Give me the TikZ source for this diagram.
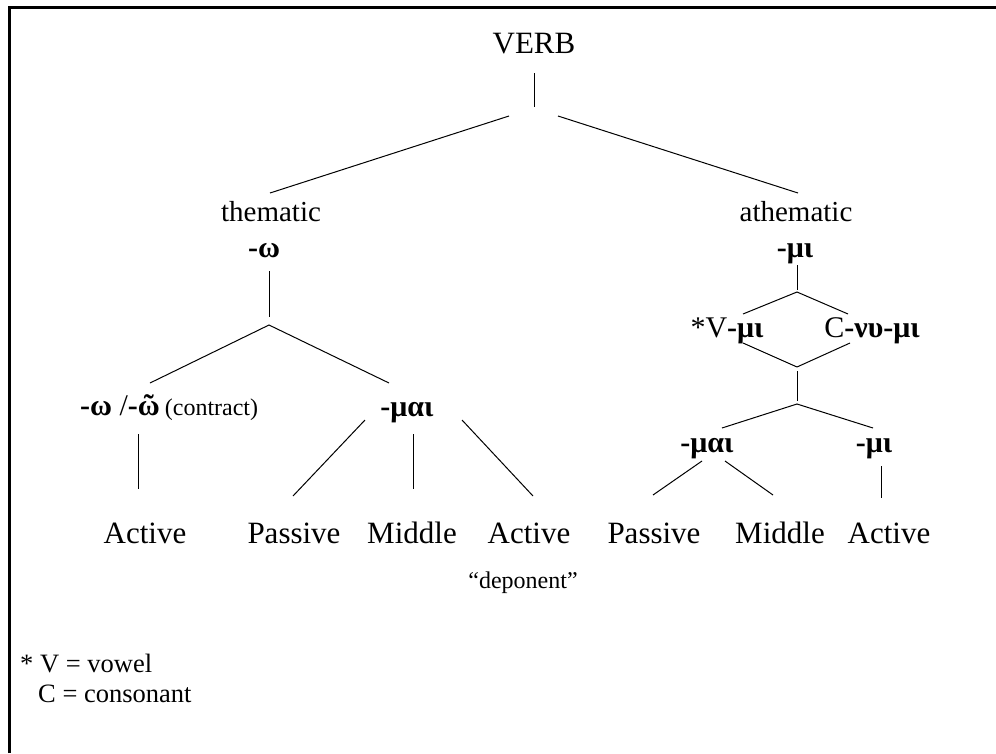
\documentclass[tikz,border=0pt]{standalone}
\usepackage{fontspec}
\setmainfont{Liberation Serif}
\begin{document}
\begin{tikzpicture}[x=1pt,y=-1pt,
  lbl/.style={inner sep=0pt,anchor=base,font=\fontsize{31}{37}\selectfont},
  cat/.style={inner sep=0pt,anchor=base,font=\fontsize{29}{35}\selectfont},
  grk/.style={inner sep=0pt,anchor=base,font=\fontsize{30}{36}\selectfont\bfseries},
  note/.style={inner sep=0pt,anchor=base west,font=\fontsize{26.5}{32}\selectfont},
  small/.style={inner sep=0pt,anchor=base,font=\fontsize{24}{29}\selectfont},
  conn/.style={line width=1pt},
  frame/.style={line width=3pt}]
\useasboundingbox (0,0) rectangle (996,753);
% frame (top and left edges visible)
\coordinate (fa) at (9.5,753);
\coordinate (fb) at (9.5,7.5);
\coordinate (fc) at (996,7.5);
\draw[frame] (fa) -- (fb) -- (fc);

% nodes
\node[lbl] (verb) at (534,53) {VERB};
\node[cat] (them) at (271,221) {thematic};
\node[grk] (omega) at (264,257) {-ω};
\node[cat] (athem) at (796,221) {athematic};
\node[grk] (mi) at (795,257) {-μι};
\node[inner sep=0pt,anchor=base west] (contr) at (80,415)
  {\fontsize{30}{36}\selectfont\textbf{-ω} /\textbf{-ῶ}\,{\fontsize{24}{29}\selectfont(contract)}};
\node[grk] (mai1) at (407,416) {-μαι};
\node[lbl] (act1) at (145,543) {Active};
\node[lbl] (pas1) at (294,543) {Passive};
\node[lbl] (mid1) at (412,543) {Middle};
\node[lbl] (act2) at (529,543) {Active};
\node[small] (dep) at (523,588) {“deponent”};
\node[inner sep=0pt,anchor=base,font=\fontsize{30}{36}\selectfont] (vmi) at (727,337) {*V\textbf{-μι}};
\node[inner sep=0pt,anchor=base,font=\fontsize{30}{36}\selectfont] (cnumi) at (872,337) {C\textbf{-νυ-μι}};
\node[grk] (mai2) at (707,452) {-μαι};
\node[grk] (mi2) at (874,452) {-μι};
\node[lbl] (pas2) at (654,543) {Passive};
\node[lbl] (mid2) at (780,543) {Middle};
\node[lbl] (act3) at (889,543) {Active};
\node[note] (leg1) at (20,672) {* V = vowel};
\node[note] (leg2) at (38,702) {C = consonant};

% connector end points
\coordinate (v1) at (534,73);
\coordinate (v2) at (534,107);
\coordinate (vl) at (509,116);
\coordinate (vr) at (558,116);
\coordinate (tl) at (270,193);
\coordinate (ar) at (798,193);
\coordinate (o1) at (269,271);
\coordinate (o2) at (269,317);
\coordinate (oj) at (269,325);
\coordinate (ol) at (150,383);
\coordinate (or) at (389,383);
\coordinate (c1) at (138,434);
\coordinate (c2) at (138,489);
\coordinate (m1a) at (365,420);
\coordinate (m1b) at (293,496);
\coordinate (m1c) at (413,434);
\coordinate (m1d) at (413,489);
\coordinate (m1e) at (462,420);
\coordinate (m1f) at (533,496);
\coordinate (a1) at (797,265);
\coordinate (a2) at (797,290);
\coordinate (aj) at (797,292);
\coordinate (al) at (743,314);
\coordinate (ar2) at (848,314);
\coordinate (bl) at (743,343);
\coordinate (br) at (850,343);
\coordinate (bj) at (797,367);
\coordinate (b1) at (797,371);
\coordinate (b2) at (797,401);
\coordinate (bj2) at (797,404);
\coordinate (cl) at (722,428);
\coordinate (cr) at (873,428);
\coordinate (d1) at (702,461);
\coordinate (d2) at (653,495);
\coordinate (d3) at (725,461);
\coordinate (d4) at (773,495);
\coordinate (e1) at (881,466);
\coordinate (e2) at (881,498);

\draw[conn] (v1) -- (v2);
\draw[conn] (vl) -- (tl);
\draw[conn] (vr) -- (ar);
\draw[conn] (o1) -- (o2);
\draw[conn] (ol) -- (oj) -- (or);
\draw[conn] (c1) -- (c2);
\draw[conn] (m1a) -- (m1b);
\draw[conn] (m1c) -- (m1d);
\draw[conn] (m1e) -- (m1f);
\draw[conn] (a1) -- (a2);
\draw[conn] (al) -- (aj) -- (ar2);
\draw[conn] (bl) -- (bj);
\draw[conn] (br) -- (bj);
\draw[conn] (b1) -- (b2);
\draw[conn] (cl) -- (bj2) -- (cr);
\draw[conn] (d1) -- (d2);
\draw[conn] (d3) -- (d4);
\draw[conn] (e1) -- (e2);
\end{tikzpicture}
\end{document}
